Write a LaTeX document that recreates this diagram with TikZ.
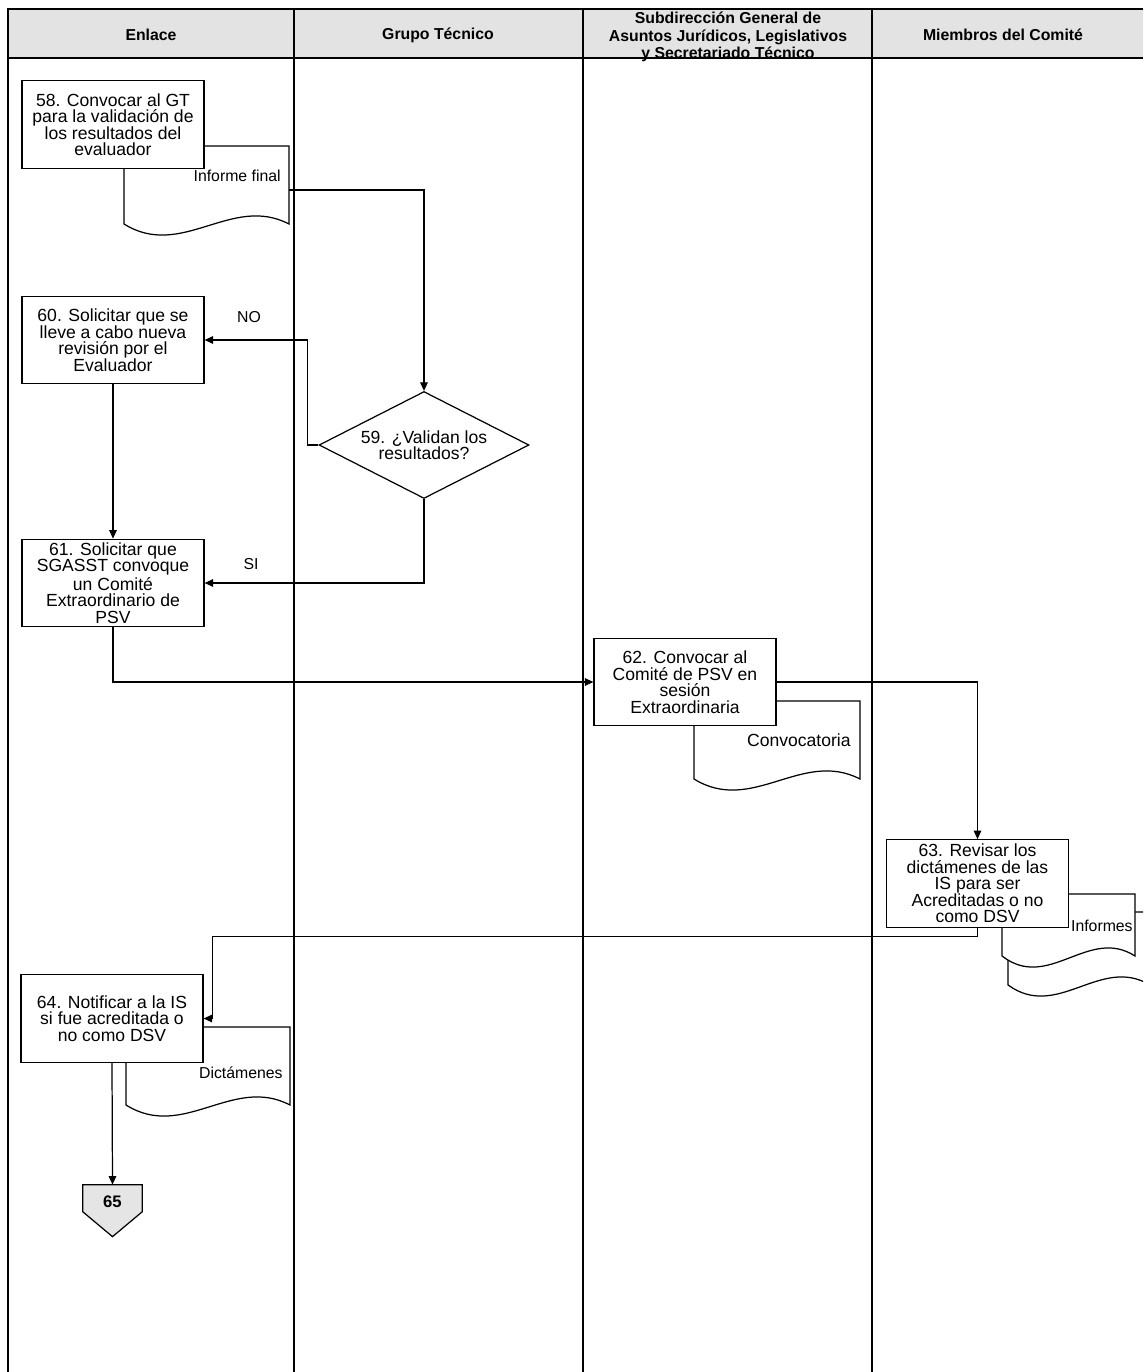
\documentclass[tikz,border=0pt]{standalone}
\usepackage{fontspec}
\setmainfont{Liberation Sans}
\usetikzlibrary{calc,shapes.geometric,arrows.meta}

\pgfdeclarelayer{paper}
\pgfdeclarelayer{bg}
\pgfsetlayers{paper,bg,main}

% document symbol drawn round an empty node (wavy lower edge)
\newcommand{\docoutline}[1]{%
  \filldraw[docline] (#1.north west) -- (#1.north east) -- ($(#1.south east)+(0,-10)$)
    .. controls ($(#1.south east)!0.35!(#1.south west)+(0,-40)$) and ($(#1.south east)!0.65!(#1.south west)+(0,26)$) .. ($(#1.south west)+(0,-10)$) -- cycle;}

\begin{document}
\begin{tikzpicture}[x=0.02cm,y=-0.02cm]
\tikzstyle{lane}=[line width=1.1pt]
\tikzstyle{taskbox}=[draw,fill=white,line width=0.7pt,minimum width=3.64cm,minimum height=1.75cm,inner sep=1pt,align=center,font=\fontsize{10}{9.4}\selectfont]
\tikzstyle{decision}=[diamond,draw,fill=white,line width=0.7pt,minimum width=4.2cm,minimum height=2.14cm,aspect=2,inner sep=0pt,align=center,font=\fontsize{10}{9.4}\selectfont]
\tikzstyle{docnode}=[inner sep=0pt,outer sep=0pt]
\tikzstyle{docline}=[draw,fill=white,line width=0.7pt]
\tikzstyle{doclabel}=[inner sep=0pt,anchor=east,font=\fontsize{9}{10}\selectfont]
\tikzstyle{header}=[align=center,font=\fontsize{9}{10}\selectfont\bfseries]
\tikzstyle{answer}=[inner sep=0pt,font=\fontsize{9}{10}\selectfont]
\tikzstyle{flow}=[line width=0.7pt,-{Triangle[length=1.7mm,width=1.5mm]}]
\tikzstyle{conn}=[minimum width=1.18cm,minimum height=0.68cm,inner sep=0pt,font=\fontsize{9.5}{10}\selectfont\bfseries]

\begin{pgfonlayer}{paper}
\fill[white] (0,0) rectangle (1143,1372);
\end{pgfonlayer}
\useasboundingbox (0,0) rectangle (1143,1372);
\clip (0,0) rectangle (1143,1372);

% swimlanes
\fill[gray!22] (8,9) rectangle (1143,58);
\draw[lane] (1143,9) -- (8,9) -- (8,1372);
\draw[lane] (8,58) -- (1143,58);
\foreach \x in {294,583,872} \draw[lane] (\x,9) -- (\x,1372);

\node (hEnlace) [header] at (151,35) {Enlace};
\node (hGrupo)  [header] at (438,35) {Grupo Técnico};
\node (hSub)    [header] at (728,37) {Subdirección General de\\Asuntos Jurídicos, Legislativos\\y Secretariado Técnico};
\node (hComite) [header] at (1003,35) {Miembros del Comité};

% documents
\node (dInforme) [docnode, minimum width=3.3cm, minimum height=1.76cm] at (206.5,190) {};
\docoutline{dInforme}
\node (dConv) [docnode, minimum width=3.32cm, minimum height=1.76cm] at (777,745) {};
\docoutline{dConv}
\node (dDict) [docnode, minimum width=3.28cm, minimum height=1.76cm] at (208,1071) {};
\docoutline{dDict}
\node (dInfB) [docnode, minimum width=2.84cm, minimum height=1.66cm] at (1079,953.5) {};
\docoutline{dInfB}
\node (dInfA) [docnode, minimum width=2.66cm, minimum height=1.44cm] at (1068.5,930) {};
\docoutline{dInfA}

\node (lInforme) [doclabel] at ($(dInforme.east)+(-8,-14)$) {Informe final};
\node (lConv) [doclabel, font=\fontsize{10}{10}\selectfont] at ($(dConv.east)+(-9,-5)$) {Convocatoria};
\node (lDict) [doclabel] at ($(dDict.east)+(-7,2)$) {Dictámenes};
\node (lInf) [doclabel] at ($(dInfA.east)+(-2,-4)$) {Informes};

% activities
\node (t58) [taskbox] at (113,124.5) {58. Convocar al GT\\para la validación de\\los resultados del\\evaluador};
\node (t60) [taskbox] at (113,340) {60. Solicitar que se\\lleve a cabo nueva\\revisión por el\\Evaluador};
\node (t61) [taskbox] at (113,583) {61. Solicitar que\\SGASST convoque\\un Comité\\Extraordinario de\\PSV};
\node (t62) [taskbox] at (685,682) {62. Convocar al\\Comité de PSV en\\sesión\\Extraordinaria};
\node (t63) [taskbox] at (977.5,883.5) {63. Revisar los\\dictámenes de las\\IS para ser\\Acreditadas o no\\como DSV};
\node (t64) [taskbox] at (112,1018.5) {64. Notificar a la IS\\si fue acreditada o\\no como DSV};
\node (q59) [decision] at (424,445) {59. ¿Validan los\\resultados?};

% off-page connector
\node (c65) [conn] at (112.5,1202) {65};
\begin{pgfonlayer}{bg}
\filldraw[fill=gray!20, line width=0.7pt] (c65.north west) -- (c65.north east) -- ++(0,27)
  -- ($(c65.north)+(0,52)$) -- ($(c65.north west)+(0,27)$) -- cycle;
\end{pgfonlayer}

\node (lNo) [answer] at (249,317) {NO};
\node (lSi) [answer] at (251,564) {SI};

% flow
\draw[flow] (dInforme.east) -| (q59.north);
\draw[flow] (q59.west) -- ++(-11,0) |- (t60.east);
\draw[flow] (q59.south) |- (t61.east);
\draw[flow] (t60.south) -- (t61.north);
\draw[flow] (t61.south) |- (t62.west);
\draw[flow] (t62.east) -| (t63.north);
\draw[flow] (t63.south) -- ++(0,9) -| ($(t64.east)+(9,0)$) -- (t64.east);
\draw[flow] (t64.south) -- (c65.north);

\end{tikzpicture}
\end{document}
